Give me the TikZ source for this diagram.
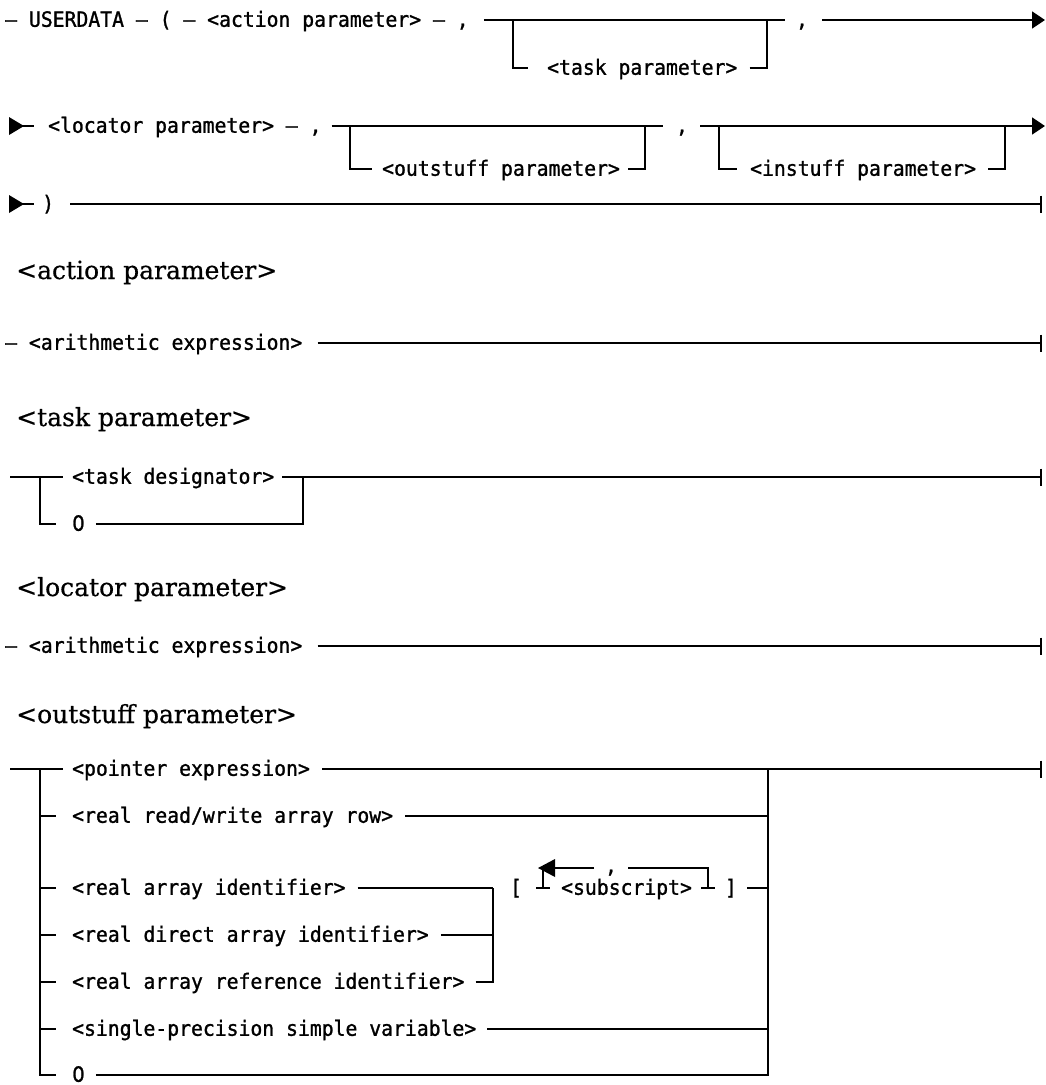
\documentclass[tikz,border=0pt]{standalone}
\usepackage{fontspec}
\newfontfamily\railfont[FakeStretch=0.94,FakeBold=1.2]{DejaVu Sans Mono}
\newfontfamily\zerofont[FakeStretch=0.94,FakeBold=1.2]{DejaVu Sans}
\newfontfamily\headfont[FakeBold=0.6]{DejaVu Serif}
\usetikzlibrary{arrows.meta}
\begin{document}
\begin{tikzpicture}[x=1pt,y=-1pt,
  rail/.style={line width=1.8pt},
  term/.style={font=\railfont\fontsize{21}{25}\selectfont, inner sep=0pt,
    text height=13.5pt, text depth=0pt, anchor=west},
  termc/.style={term, anchor=center},
  zero/.style={term, font=\zerofont\fontsize{21}{25}\selectfont},
  head/.style={font=\headfont\fontsize{25}{30}\selectfont, inner sep=0pt, anchor=base west},
  cont/.style={-{Triangle[length=13pt,width=17pt]}},
  stop/.style={-{Bar[width=17pt]}},
  contmark/.style={fill=black},
]
\useasboundingbox (0,0) rectangle (1045,1085);

% ---------- USERDATA statement, line 1
\node[term] (ud) at (5,20) {– USERDATA – ( – <action parameter> – ,};
\node[term] (tp) at (547,68) {<task parameter>};
\node[termc] (c1) at (802,20) {,};
\draw[rail] ([xshift=15pt]ud.east) -- (785,20);
\draw[rail] (513,20) |- ([xshift=-19pt]tp.west);
\draw[rail] ([xshift=12pt]tp.east) -| (767,20);
\draw[rail,cont] ([xshift=14pt]c1.east) -- (1045,20);

% ---------- line 2
\fill[contmark] (9,117) -- (24,126) -- (9,135) -- cycle;
\node[term] (loc) at (48,126) {<locator parameter> – ,};
\draw[rail] (22,126) -- ([xshift=-14pt]loc.west);
\draw[rail] ([xshift=10pt]loc.east) -- (663,126);
\node[term] (os) at (382,169) {<outstuff parameter>};
\draw[rail] (350,126) |- ([xshift=-10pt]os.west);
\draw[rail] ([xshift=8pt]os.east) -| (645,126);
\node[termc] (c2) at (682,126) {,};
\draw[rail,cont] ([xshift=12pt]c2.east) -- (1045,126);
\node[term] (is) at (750,169) {<instuff parameter>};
\draw[rail] (719,126) |- ([xshift=-13pt]is.west);
\draw[rail] ([xshift=12pt]is.east) -| (1005,126);

% ---------- line 3
\fill[contmark] (9,195) -- (24,204) -- (9,213) -- cycle;
\node[term] (cp) at (42,204) {)};
\draw[rail] (22,204) -- ([xshift=-8pt]cp.west);
\draw[rail,stop] ([xshift=16pt]cp.east) -- (1042,204);

% ---------- <action parameter>
\node[head] (h1) at (16,279) {<action parameter>};
\node[term] (ae1) at (5,343) {– <arithmetic expression>};
\draw[rail,stop] ([xshift=15pt]ae1.east) -- (1042,343);

% ---------- <task parameter>
\node[head] (h2) at (16,426) {<task parameter>};
\node[term] (td) at (72,477) {<task designator>};
\node[zero] (z1) at (72,524) {0};
\coordinate (tj) at (303,477);
\draw[rail] (10,477) -- ([xshift=-9pt]td.west);
\draw[rail] (40,477) |- ([xshift=-16pt]z1.west);
\draw[rail] ([xshift=8pt]td.east) -- (tj);
\draw[rail] ([xshift=11pt]z1.east) -| (tj);
\draw[rail,stop] (tj) -- (1042,477);

% ---------- <locator parameter>
\node[head] (h3) at (16,596) {<locator parameter>};
\node[term] (ae2) at (5,646) {– <arithmetic expression>};
\draw[rail,stop] ([xshift=15pt]ae2.east) -- (1042,646);

% ---------- <outstuff parameter>
\node[head] (h4) at (16,723) {<outstuff parameter>};
\node[term] (pe) at (72,769) {<pointer expression>};
\node[term] (rw) at (72,816) {<real read/write array row>};
\node[term] (ra) at (72,888) {<real array identifier>};
\node[term] (rd) at (72,935) {<real direct array identifier>};
\node[term] (rr) at (72,982) {<real array reference identifier>};
\node[term] (sp) at (72,1029) {<single-precision simple variable>};
\node[zero] (z2) at (72,1075) {0};
\coordinate (oj) at (768,769);
\coordinate (aj) at (493,888);

% entry rail and its branches
\draw[rail] (10,769) -- ([xshift=-9pt]pe.west);
\draw[rail] (40,769) |- ([xshift=-16pt]z2.west);
\foreach \n in {rw,ra,rd,rr,sp}
  \draw[rail] (40,0 |- \n.west) -- ([xshift=-16pt]\n.west);

% array identifiers with subscripts
\draw[rail] ([xshift=12pt]ra.east) -- (aj);
\draw[rail] ([xshift=12pt]rd.east) -- (aj |- rd.west);
\draw[rail] ([xshift=11pt]rr.east) -| (aj);
\node[termc] (lb) at (516,888) {[};
\node[term] (ss) at (561,888) {<subscript>};
\node[termc] (rb) at (731,888) {]};
\node[termc] (lc) at (611,866) {,};
\coordinate (lr) at (708,868);
\coordinate (ll) at (543,868);
\draw[rail] (536,888) -- (550,888);
\draw[rail] (701,888) -- (715,888);
\draw[rail] (lr |- rb.west) -- (lr) -- (628,868);
\draw[rail] (594,868) -- (ll) -- (ll |- lb.east);
\fill (538,868) -- (555,859) -- (555,877) -- cycle;
\draw[rail] ([xshift=10pt]rb.east) -- (oj |- rb.west);

% exits to the closing rail
\draw[rail] ([xshift=12pt]pe.east) -- (oj);
\draw[rail] ([xshift=12pt]rw.east) -- (oj |- rw.west);
\draw[rail] ([xshift=11pt]sp.east) -- (oj |- sp.west);
\draw[rail] ([xshift=11pt]z2.east) -| (oj);
\draw[rail,stop] (oj) -- (1042,769);
\end{tikzpicture}
\end{document}
